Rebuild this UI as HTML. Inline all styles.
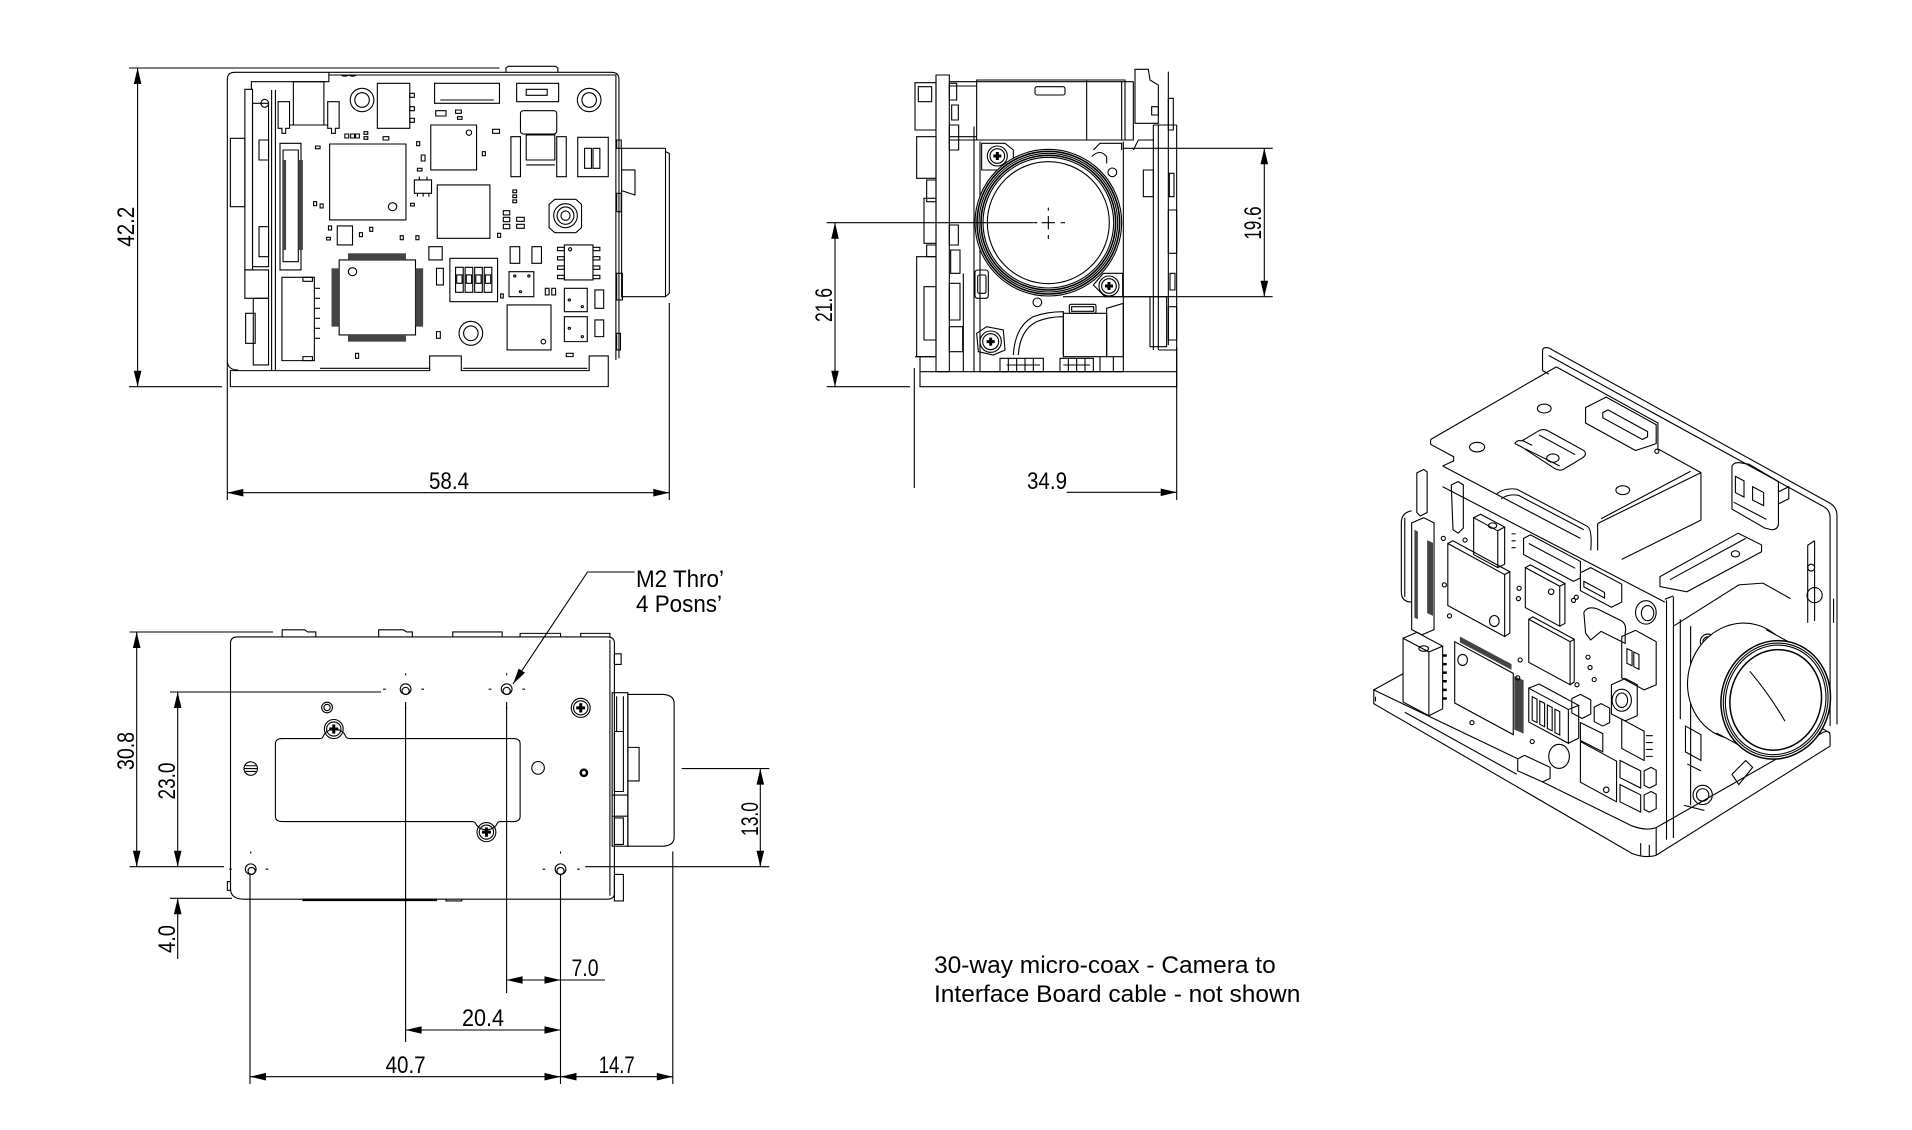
<!DOCTYPE html>
<html><head><meta charset="utf-8">
<style>
html,body{margin:0;padding:0;background:#fff;}
svg{display:block;}
svg *{vector-effect:non-scaling-stroke;}
.l{fill:none;stroke:#000;stroke-width:1.1;}
.w{fill:#fff;}
.p{fill:#444;stroke:none;}
.d{font-family:"Liberation Sans",Arial,sans-serif;font-size:24px;fill:#000;stroke:none;}
.n{font-family:"Liberation Sans",Arial,sans-serif;font-size:24.5px;fill:#000;stroke:none;}
.a{fill:#000;stroke:none;}
</style></head><body>
<svg width="1912" height="1130" viewBox="0 0 1912 1130" xmlns="http://www.w3.org/2000/svg">
<rect x="0" y="0" width="1912" height="1130" fill="#fff"/>

<!-- ================= TOP VIEW ================= -->
<g class="l" transform="matrix(0.3817 0 0 0.3333 100.6 40)">
<path d="M332,965 V118 Q332,97 352,97 H1338 Q1358,97 1358,118 V955"/>
<path d="M1062,97 V84 L1068,79 H1192 L1198,84 V97"/>
<path d="M598,97 V105 H1350 V960 M598,105 V125 H395 V148"/>
<path d="M630,105 Q640,112 650,105 Q660,112 670,105"/>
<path d="M332,965 Q334,990 360,990"/>
<path d="M340,1040 V992 H862 V948 H945 V992 H1280 V948 H1330 V1040 Z"/>
<path d="M458,150 V990 M448,150 V990"/>
<path d="M575,985 H860 M950,985 H1275"/>
<rect x="378" y="148" width="20" height="542"/>
<rect x="398" y="190" width="42" height="490"/>
<rect x="340" y="295" width="38" height="205"/>
<rect x="378" y="690" width="62" height="85"/>
<rect x="380" y="820" width="25" height="90"/>
<rect x="400" y="775" width="40" height="200"/>
<rect x="415" y="300" width="25" height="60"/>
<rect x="415" y="560" width="25" height="90"/>
<ellipse cx="430" cy="190" rx="10" ry="12"/>
<rect x="505" y="125" width="80" height="130"/>
<path d="M465,185 H495 V265 H485 V280 H475 V265 H465 Z"/>
<path d="M595,185 H625 V265 H615 V280 H605 V265 H595 Z"/>
<path d="M495,255 H595"/>
<rect x="725" y="130" width="85" height="135"/>
<rect x="810" y="160" width="12" height="12"/><rect x="810" y="200" width="12" height="12"/><rect x="810" y="235" width="12" height="12"/>
<ellipse cx="685" cy="180" rx="31" ry="35"/><ellipse cx="685" cy="180" rx="19" ry="22"/>
<rect x="875" y="130" width="170" height="60"/>
<path d="M890,180 H1030"/>
<rect x="1090" y="130" width="110" height="55"/>
<rect x="1115" y="148" width="55" height="18"/>
<ellipse cx="1280" cy="180" rx="31" ry="35"/><ellipse cx="1280" cy="180" rx="19" ry="22"/>
<rect x="878" y="212" width="27" height="16"/><rect x="930" y="210" width="15" height="10"/><rect x="935" y="230" width="12" height="8"/>
<rect x="1027" y="268" width="18" height="12"/><rect x="740" y="290" width="15" height="10"/><rect x="690" y="275" width="10" height="8"/>
<rect x="690" y="290" width="10" height="8"/><rect x="640" y="282" width="10" height="12"/><rect x="655" y="282" width="10" height="12"/>
<rect x="668" y="282" width="10" height="12"/><rect x="563" y="318" width="12" height="8"/><rect x="828" y="305" width="8" height="12"/>
<rect x="840" y="345" width="10" height="18"/><rect x="830" y="385" width="12" height="8"/><rect x="1000" y="335" width="8" height="12"/>
<rect x="812" y="490" width="10" height="8"/><rect x="558" y="485" width="8" height="12"/><rect x="575" y="492" width="8" height="12"/>
<rect x="597" y="558" width="8" height="12"/><rect x="592" y="592" width="10" height="8"/><rect x="678" y="578" width="8" height="12"/>
<rect x="705" y="562" width="8" height="12"/><rect x="785" y="587" width="8" height="12"/><rect x="826" y="587" width="8" height="12"/>
<rect x="1080" y="450" width="10" height="8"/><rect x="1080" y="465" width="10" height="8"/><rect x="1080" y="480" width="10" height="8"/>
<rect x="865" y="255" width="120" height="135"/><ellipse cx="965" cy="278" rx="7" ry="8"/>
<rect x="1100" y="212" width="95" height="70" rx="8"/>
<rect x="1115" y="285" width="75" height="75"/>
<rect x="1075" y="290" width="25" height="120"/><rect x="1195" y="290" width="25" height="120"/>
<path d="M1115,375 H1190"/>
<rect x="1250" y="292" width="80" height="118"/>
<rect x="1268" y="325" width="18" height="60"/><rect x="1290" y="325" width="18" height="60"/>
<rect x="600" y="312" width="200" height="228"/><ellipse cx="765" cy="500" rx="11" ry="12"/>
<rect x="470" y="310" width="55" height="380"/>
<rect x="478" y="330" width="40" height="335"/>
<rect class="p" x="476" y="360" width="10" height="270"/>
<rect class="p" x="518" y="360" width="12" height="270"/>
<rect x="822" y="420" width="45" height="40"/>
<path d="M835,410 V420 M855,410 V420 M830,460 V470 M845,460 V470 M860,460 V470"/>
<rect x="882" y="435" width="138" height="160"/>
<path d="M1190,478 H1245 L1260,493 V563 L1245,578 H1190 L1175,563 V493 Z"/>
<ellipse cx="1218" cy="527" rx="31" ry="36"/><ellipse cx="1218" cy="527" rx="22" ry="26"/><ellipse cx="1218" cy="527" rx="12" ry="14"/>
<rect x="1055" y="512" width="17" height="13"/><rect x="1055" y="532" width="17" height="13"/><rect x="1055" y="553" width="17" height="13"/>
<rect x="1090" y="532" width="20" height="12"/><rect x="1090" y="553" width="20" height="12"/><rect x="1040" y="580" width="8" height="12"/>
<rect x="620" y="558" width="40" height="57"/>
<rect x="625" y="660" width="200" height="225"/>
<ellipse cx="660" cy="695" rx="11" ry="12"/>
<rect class="p" x="648" y="640" width="152" height="20"/>
<rect class="p" x="648" y="885" width="152" height="20"/>
<rect class="p" x="605" y="685" width="20" height="175"/>
<rect class="p" x="825" y="685" width="20" height="175"/>
<rect x="880" y="685" width="18" height="50"/>
<rect x="860" y="620" width="35" height="40"/>
<rect x="915" y="655" width="125" height="130"/>
<rect x="930" y="682" width="20" height="75"/><rect x="955" y="682" width="20" height="75"/><rect x="980" y="682" width="20" height="75"/><rect x="1005" y="682" width="20" height="75"/>
<rect x="933" y="705" width="14" height="25"/><rect x="958" y="705" width="14" height="25"/><rect x="983" y="705" width="14" height="25"/><rect x="1008" y="705" width="14" height="25"/>
<rect x="1215" y="615" width="75" height="105"/><ellipse cx="1230" cy="628" rx="4" ry="5"/>
<rect x="1197" y="622" width="18" height="10"/><rect x="1197" y="650" width="18" height="10"/><rect x="1197" y="678" width="18" height="10"/><rect x="1197" y="706" width="18" height="10"/>
<rect x="1290" y="622" width="18" height="10"/><rect x="1290" y="650" width="18" height="10"/><rect x="1290" y="678" width="18" height="10"/><rect x="1290" y="706" width="18" height="10"/>
<rect x="1073" y="620" width="25" height="50"/><rect x="1130" y="620" width="25" height="50"/>
<rect x="1070" y="695" width="65" height="75"/>
<ellipse cx="1085" cy="708" rx="3" ry="3"/><ellipse cx="1122" cy="708" rx="3" ry="3"/><ellipse cx="1100" cy="755" rx="3" ry="3"/>
<rect x="1165" y="745" width="10" height="20"/><rect x="1182" y="745" width="10" height="20"/>
<rect x="1215" y="745" width="60" height="70"/><rect x="1215" y="830" width="60" height="75"/>
<ellipse cx="1228" cy="780" rx="3" ry="3"/><ellipse cx="1262" cy="800" rx="3" ry="3"/><ellipse cx="1228" cy="865" rx="3" ry="3"/><ellipse cx="1262" cy="890" rx="3" ry="3"/>
<rect x="1295" y="750" width="23" height="55"/><rect x="1295" y="840" width="23" height="50"/>
<rect x="1065" y="795" width="115" height="135"/><ellipse cx="1160" cy="905" rx="6" ry="7"/>
<ellipse cx="970" cy="880" rx="31" ry="36"/><ellipse cx="970" cy="880" rx="19" ry="22"/>
<rect x="475" y="712" width="85" height="250"/>
<rect x="530" y="712" width="25" height="12"/><rect x="530" y="950" width="25" height="12"/>
<path d="M560,745 H575 M560,775 H575 M560,805 H575 M560,835 H575 M560,865 H575 M560,895 H575"/>
<rect x="880" y="875" width="10" height="20"/><rect x="668" y="940" width="8" height="15"/><rect x="1220" y="940" width="18" height="10"/><rect x="1048" y="762" width="7" height="12"/>
<rect x="1365" y="325" width="115" height="445"/>
<path d="M1480,335 L1490,340 V760 L1480,770"/>
<path d="M1365,390 H1400 V465 L1365,452"/>
<rect x="1352" y="300" width="12" height="25"/><rect x="1352" y="460" width="12" height="55"/><rect x="1352" y="700" width="15" height="80"/>
<rect x="1352" y="880" width="10" height="50"/>
</g>

<!-- top view dims -->
<g class="l">
<path d="M129,68 H499.5 M129,386.7 H222 M137.6,68 V386.7 M227.3,361.7 V500 M669.3,303 V500 M227.3,492.7 H669.3"/>
</g>
<polygon class="a" points="137.6,68 133.8,84 141.4,84"/>
<polygon class="a" points="137.6,386.7 133.8,370.7 141.4,370.7"/>
<polygon class="a" points="227.3,492.7 243.3,488.9 243.3,496.5"/>
<polygon class="a" points="669.3,492.7 653.3,488.9 653.3,496.5"/>
<text class="d" transform="translate(134,226.7) rotate(-90)" text-anchor="middle" textLength="40" lengthAdjust="spacingAndGlyphs">42.2</text>
<text class="d" x="449" y="489" text-anchor="middle" textLength="40" lengthAdjust="spacingAndGlyphs">58.4</text>

<!-- ================= FRONT VIEW ================= -->
<g class="l" transform="translate(800,40) scale(0.33333)">
<rect x="408" y="105" width="40" height="890"/>
<rect x="345" y="128" width="63" height="142"/>
<rect x="355" y="140" width="40" height="45"/>
<rect x="350" y="290" width="58" height="125"/>
<rect x="380" y="420" width="28" height="65"/>
<rect x="372" y="475" width="36" height="135"/>
<rect x="380" y="615" width="28" height="35"/>
<rect x="350" y="650" width="58" height="300"/>
<rect x="372" y="740" width="36" height="160"/>
<rect x="448" y="130" width="22" height="50"/>
<rect x="455" y="195" width="20" height="45"/>
<rect x="448" y="255" width="28" height="75"/>
<rect x="448" y="555" width="27" height="60"/>
<rect x="452" y="630" width="28" height="70"/>
<rect x="448" y="730" width="32" height="110"/>
<rect x="448" y="860" width="40" height="75"/>
<path d="M448,125 H1000 M448,138 H530"/>
<rect x="530" y="120" width="445" height="180"/>
<path d="M860,120 V300 M965,125 V300"/>
<rect x="705" y="140" width="90" height="25" rx="6"/>
<path d="M448,290 H530 M448,300 H1000 V125"/>
<path d="M522,260 V995 M490,700 V995"/>
<path d="M540,995 V305 M970,305 V995"/>
<path d="M545,310 H615 L640,330 V360 L600,390 H545 Z"/>
<path d="M880,330 L900,310 H965 V330 M875,350 Q900,325 920,350 L920,370"/>
<path d="M880,735 L910,700 H968 V770 H915 Z"/>
<path d="M530,880 L560,860 L610,870 L615,930 L580,945 L535,935 Z"/>
<circle cx="592" cy="348" r="30"/><circle cx="592" cy="348" r="22"/>
<circle cx="927" cy="738" r="30"/><circle cx="927" cy="738" r="22"/>
<circle cx="572" cy="905" r="32"/><circle cx="572" cy="905" r="24"/>
<path d="M580,348 H604 M592,336 V360 M915,738 H939 M927,726 V750 M560,905 H584 M572,893 V917" style="stroke-width:3"/>
<circle cx="745" cy="548" r="220" class="w"/>
<circle cx="745" cy="548" r="214" style="stroke-width:1.6"/>
<circle cx="745" cy="548" r="208"/>
<circle cx="745" cy="548" r="202" style="stroke-width:1.6"/>
<circle cx="745" cy="548" r="196"/>
<circle cx="745" cy="548" r="183"/>
<path d="M725,548 H765 M745,528 V568 M700,548 H712 M782,548 H795 M745,503 V512 M745,585 V597"/>
<circle cx="937" cy="397" r="13"/><circle cx="712" cy="787" r="13"/>
<rect x="525" y="690" width="40" height="85" rx="8"/>
<rect x="533" y="705" width="25" height="55" rx="5"/>
<rect x="808" y="793" width="80" height="27" rx="5"/>
<rect x="815" y="800" width="66" height="14"/>
<path d="M640,945 Q645,860 700,830 Q740,815 790,815 V945 M655,945 Q660,870 710,845 Q745,830 790,830"/>
<rect x="790" y="820" width="130" height="130"/>
<path d="M920,805 L970,790 V950 H920 Z"/>
<rect x="600" y="955" width="130" height="40"/>
<path d="M620,975 H720 M625,955 V995 M650,955 V995 M675,955 V995 M700,955 V995"/>
<rect x="780" y="955" width="100" height="40"/>
<path d="M790,975 H870 M805,955 V995 M830,955 V995 M855,955 V995"/>
<path d="M540,995 H970 M900,950 V995 M940,950 V995"/>
<path d="M1005,88 H1045 L1050,120 L1075,135 V250 H1005 Z"/>
<rect x="1055" y="200" width="20" height="25"/>
<path d="M1105,95 V915 M1130,255 V930 M1075,255 V930 M1060,255 V930 M1060,255 H1130"/>
<path d="M1000,330 L1015,300 H1060"/>
<rect x="1030" y="390" width="30" height="80"/>
<rect x="1105" y="175" width="15" height="95"/>
<rect x="1108" y="400" width="14" height="70"/>
<rect x="1105" y="510" width="25" height="130"/>
<rect x="1110" y="700" width="15" height="50"/>
<rect x="1105" y="800" width="25" height="100"/>
<rect x="1050" y="770" width="50" height="150"/>
<path d="M970,770 H1050"/>
<rect x="360" y="995" width="770" height="45"/>
<path d="M345,950 H408 M360,950 V995 M1130,925 V995 M1075,930 H1130"/>
</g>

<!-- front view dims -->
<g class="l">
<path d="M826.7,222.7 H1033 M826.7,386.7 H910 M835,222.7 V386.7 M1123,148.3 H1272.7 M1063,296.7 H1272.7 M1264.3,148.3 V296.7 M914.3,368 V488 M1176.7,346.7 V500 M1066.7,492.3 H1176.7"/>
</g>
<polygon class="a" points="835,222.7 831.2,238.7 838.8,238.7"/>
<polygon class="a" points="835,386.7 831.2,370.7 838.8,370.7"/>
<polygon class="a" points="1264.3,148.3 1260.5,164.3 1268.1,164.3"/>
<polygon class="a" points="1264.3,296.7 1260.5,280.7 1268.1,280.7"/>
<polygon class="a" points="1176.7,492.3 1160.7,488.5 1160.7,496.1"/>
<text class="d" transform="translate(832,305) rotate(-90)" text-anchor="middle" textLength="34" lengthAdjust="spacingAndGlyphs">21.6</text>
<text class="d" transform="translate(1261,223) rotate(-90)" text-anchor="middle" textLength="33" lengthAdjust="spacingAndGlyphs">19.6</text>
<text class="d" x="1047" y="489" text-anchor="middle" textLength="40" lengthAdjust="spacingAndGlyphs">34.9</text>

<!-- ================= BOTTOM VIEW ================= -->
<g class="l" transform="matrix(0.449 0 0 0.353 100.3 555)">
<path d="M305,232 H1130 Q1145,232 1145,250 V958 Q1145,975 1130,975 H320 Q290,975 290,945 V250 Q290,232 305,232 Z"/>
<path d="M1135,240 V965"/>
<path d="M405,232 V212 H455 L462,218 H480 V232 M620,232 V212 H675 L682,218 H695 V232 M785,232 V218 H895 V232 M935,232 V222 H1025 V232 M1070,232 V222 H1135 V232"/>
<rect x="1145" y="280" width="15" height="30"/>
<rect x="1145" y="905" width="20" height="75"/>
<rect x="283" y="925" width="7" height="25"/>
<path d="M405,520 H490 Q495,520 498,510 A25,25 0 0 1 545,510 Q548,520 555,520 H920 Q935,520 935,535 V740 Q935,755 920,755 H890 Q885,755 882,765 A25,25 0 0 1 838,765 Q835,755 828,755 H405 Q390,755 390,740 V535 Q390,520 405,520 Z"/>
<ellipse cx="520" cy="493" rx="21" ry="27"/><ellipse cx="520" cy="493" rx="16" ry="20"/>
<ellipse cx="860" cy="785" rx="21" ry="27"/><ellipse cx="860" cy="785" rx="16" ry="20"/>
<ellipse cx="1070" cy="433" rx="21" ry="27"/><ellipse cx="1070" cy="433" rx="16" ry="20"/>
<path d="M510,493 H530 M520,480 V506 M850,785 H870 M860,772 V798 M1060,433 H1080 M1070,420 V446" style="stroke-width:3"/>
<ellipse cx="505" cy="432" rx="12" ry="15"/><ellipse cx="505" cy="432" rx="7" ry="9"/>
<ellipse cx="975" cy="603" rx="14" ry="18"/>
<ellipse cx="1077" cy="617" rx="7" ry="9" style="stroke-width:2.5"/>
<ellipse cx="335" cy="605" rx="15" ry="19"/>
<path d="M323,597 H347 M321,605 H349 M323,613 H347"/>
<ellipse cx="680" cy="380" rx="12" ry="15"/><ellipse cx="680" cy="385" rx="8" ry="10"/>
<ellipse cx="905" cy="380" rx="12" ry="15"/><ellipse cx="905" cy="385" rx="8" ry="10"/>
<ellipse cx="335" cy="890" rx="12" ry="15"/><ellipse cx="337" cy="895" rx="8" ry="10"/>
<ellipse cx="1025" cy="890" rx="12" ry="15"/><ellipse cx="1025" cy="895" rx="8" ry="10"/>
<path d="M630,380 H636 M715,380 H721 M680,335 V341 M680,430 V436 M865,380 H871 M940,380 H946 M905,335 V341 M905,430 V436 M287,890 H293 M368,890 H374 M335,840 V846 M985,890 H991 M1062,890 H1068 M1025,840 V846"/>
<path d="M1175,395 H1255 Q1278,398 1278,420 V800 Q1278,822 1255,825 H1175 Z"/>
<rect x="1140" y="390" width="35" height="435"/>
<path d="M1150,400 V500 M1165,400 V500 M1175,545 H1200 V640 H1175 M1140,680 H1175 M1140,740 H1175"/>
<rect x="1145" y="500" width="20" height="170"/>
<rect x="1145" y="745" width="20" height="75"/>
<path d="M450,977 H750" style="stroke-width:2.5"/>
<path d="M770,975 V980 H805 V975"/>
</g>

<!-- bottom view dims -->
<g class="l">
<path d="M129.5,632 H273 M129.5,866.7 H224 M136.7,632 V866.7 M170,692 H381 M177.7,692 V866.7 M170,898.3 H232 M177.7,898.3 V959 M250,875 V1084 M405.6,702 V1042 M506.6,702 V993 M560.5,875 V1084 M672.8,851.5 V1084 M681.7,768.6 H769.3 M585.2,866.7 H769.3 M760.3,768.6 V866.7 M506.6,980 H605 M405.6,1030 H560.5 M250,1076.7 H672.8"/>
<path d="M634.6,572 H587.5 L513,684"/>
</g>
<polygon class="a" points="136.7,632 132.9,648 140.5,648"/>
<polygon class="a" points="136.7,866.7 132.9,850.7 140.5,850.7"/>
<polygon class="a" points="177.7,692 173.9,708 181.5,708"/>
<polygon class="a" points="177.7,866.7 173.9,850.7 181.5,850.7"/>
<polygon class="a" points="177.7,898.3 173.9,914.3 181.5,914.3"/>
<polygon class="a" points="760.3,768.6 756.5,784.6 764.1,784.6"/>
<polygon class="a" points="760.3,866.7 756.5,850.7 764.1,850.7"/>
<polygon class="a" points="506.6,980 522.6,976.2 522.6,983.8"/>
<polygon class="a" points="560.5,980 544.5,976.2 544.5,983.8"/>
<polygon class="a" points="405.6,1030 421.6,1026.2 421.6,1033.8"/>
<polygon class="a" points="560.5,1030 544.5,1026.2 544.5,1033.8"/>
<polygon class="a" points="250,1076.7 266,1072.9 266,1080.5"/>
<polygon class="a" points="560.5,1076.7 544.5,1072.9 544.5,1080.5"/>
<polygon class="a" points="560.5,1076.7 576.5,1072.9 576.5,1080.5"/>
<polygon class="a" points="672.8,1076.7 656.8,1072.9 656.8,1080.5"/>
<polygon class="a" points="513,684 525,672.8 518.7,668.6"/>
<text class="d" transform="translate(134,751) rotate(-90)" text-anchor="middle" textLength="38" lengthAdjust="spacingAndGlyphs">30.8</text>
<text class="d" transform="translate(175,781) rotate(-90)" text-anchor="middle" textLength="37" lengthAdjust="spacingAndGlyphs">23.0</text>
<text class="d" transform="translate(175,939) rotate(-90)" text-anchor="middle" textLength="28" lengthAdjust="spacingAndGlyphs">4.0</text>
<text class="d" transform="translate(758,819) rotate(-90)" text-anchor="middle" textLength="34" lengthAdjust="spacingAndGlyphs">13.0</text>
<text class="d" x="585" y="976" text-anchor="middle" textLength="27" lengthAdjust="spacingAndGlyphs">7.0</text>
<text class="d" x="483" y="1026" text-anchor="middle" textLength="42" lengthAdjust="spacingAndGlyphs">20.4</text>
<text class="d" x="405.6" y="1073" text-anchor="middle" textLength="40" lengthAdjust="spacingAndGlyphs">40.7</text>
<text class="d" x="616.7" y="1073" text-anchor="middle" textLength="36" lengthAdjust="spacingAndGlyphs">14.7</text>
<text class="d" x="636" y="587" textLength="88" lengthAdjust="spacingAndGlyphs">M2 Thro’</text>
<text class="d" x="636" y="612" textLength="86" lengthAdjust="spacingAndGlyphs">4 Posns’</text>

<!-- ================= 3D VIEW ================= -->
<g class="l" transform="matrix(0.3444 0 0 0.3444 1360 330)">
<path d="M530,118 V60 Q531,48 548,52 L1365,503 Q1385,515 1385,540 V1145"/>
<path d="M548,74 L1345,512 Q1365,522 1365,545 V1150"/>
<path d="M530,118 L548,128"/>
<path d="M205,318 L570,107 M205,318 V332 L272,368 V380 L240,395 M240,395 L640,605"/>
<path d="M570,107 L865,270 V345 L990,414 V552 M690,562 L990,414 M700,548 L960,410 M690,562 V640 M760,666 L990,552"/>
<ellipse cx="340" cy="340" rx="22" ry="14"/>
<ellipse cx="535" cy="228" rx="20" ry="13"/>
<ellipse cx="763" cy="465" rx="20" ry="13"/>
<circle cx="862" cy="352" r="6"/>
<path d="M450,330 Q455,318 470,322 L520,292 Q535,285 550,295 L650,350 Q660,360 648,370 L590,405 Q578,410 565,402 L470,340 Z"/>
<path d="M520,305 L625,362 M480,345 L580,395 M470,320 L500,335"/>
<ellipse cx="560" cy="372" rx="18" ry="12"/>
<path d="M655,225 L715,195 L860,275 V330 L800,350 L655,270 Z M705,240 L720,232 L835,295 V310 L820,318 L705,255 Z M655,225 V270"/>
<path d="M395,478 Q415,458 455,462 L660,570 Q675,580 670,640 M410,490 Q430,475 460,480 L650,580"/>
<path d="M1080,395 Q1085,385 1100,385 L1130,390 L1215,440 V565 Q1212,580 1195,580 L1175,575 L1080,520 Z"/>
<path d="M1090,425 L1115,438 V485 L1090,472 Z M1140,455 L1172,472 V510 L1140,494 Z M1215,470 L1245,455 V490 L1215,505 M1085,500 L1180,550"/>
<path d="M871,716 L1098,590 L1166,624 V644 L949,760 L871,745 Z"/>
<path d="M900,725 L1120,605"/>
<ellipse cx="1090" cy="650" rx="12" ry="9"/>
<path d="M890,785 V1480 M910,775 V1475 M885,782 L910,772"/>
<path d="M1300,625 V850 M1320,612 V845 M1300,625 L1320,612 M1375,780 V850"/>
<circle cx="1320" cy="770" r="22"/><circle cx="1310" cy="690" r="10"/>
<path d="M910,860 L1100,740 L1170,735 L1250,780 M930,840 V1130 M960,860 V1380 M940,1380 L1000,1395"/>
<circle cx="1010" cy="905" r="22"/><circle cx="1010" cy="905" r="14"/>
<circle cx="995" cy="1350" r="28"/><circle cx="995" cy="1350" r="18"/>
<path d="M1000,985 L1060,960 L1040,1010 L1000,1030 Z"/>
<path d="M945,1150 L990,1175 V1250 L945,1225 Z M950,1260 L990,1280"/>
<path d="M240,455 L885,790"/>
<path d="M150,525 Q120,530 120,560 V760 Q120,790 150,790 M130,545 V775"/>
<path d="M150,560 L185,545 L215,560 V870 L180,885 L150,870 Z"/>
<path class="p" d="M158,580 L168,585 V840 L158,835 Z"/>
<path class="p" d="M195,610 L212,618 V830 L195,822 Z"/>
<path d="M165,415 L185,405 L195,412 V530 L175,540 L165,530 Z"/>
<path d="M265,450 L285,440 L300,450 V575 L285,590 L270,580 Z"/>
<path d="M255,620 L420,710 V890 L255,800 Z M420,710 L435,702 V880 L420,890 M255,620 L270,612 L435,702"/>
<ellipse cx="390" cy="845" rx="14" ry="16"/>
<path d="M330,545 L400,583 V690 L330,652 Z M330,545 L350,535 L420,572 L400,583 M420,572 V680 L400,690"/>
<ellipse cx="385" cy="568" rx="12" ry="8"/>
<path d="M440,592 H452 M440,612 H452 M440,632 H452"/>
<path d="M480,690 L580,744 V860 L480,806 Z M480,690 L495,682 L595,736 L580,744 M595,736 V852 L580,860"/>
<circle cx="555" cy="760" r="8"/>
<path d="M475,605 L495,595 L640,672 V720 L620,730 L475,652 Z M490,620 L625,692"/>
<path d="M490,840 L610,905 V1030 L490,965 Z M610,905 L622,898 V1022 L610,1030 M490,840 L502,833 L622,898"/>
<path d="M275,905 L445,997 V1175 L275,1083 Z"/>
<path class="p" d="M290,890 L440,970 L440,987 L290,907 Z"/>
<path class="p" d="M448,1005 L475,1017 V1172 L448,1160 Z"/>
<ellipse cx="298" cy="958" rx="14" ry="16"/>
<path d="M125,895 L200,935 V1120 L125,1080 Z M125,895 L165,878 L240,918 L200,935 M240,918 V1100 L200,1120"/>
<ellipse cx="185" cy="925" rx="14" ry="8"/>
<path d="M240,945 H252 M240,970 H252 M240,995 H252 M240,1020 H252 M240,1045 H252 M240,1070 H252" style="stroke-width:2.5"/>
<path d="M490,1040 L605,1102 V1200 L490,1138 Z M490,1040 L520,1028 L635,1090 L605,1102 M635,1090 V1185 L605,1200"/>
<path d="M500,1065 L514,1072 V1140 L500,1133 Z M522,1077 L536,1084 V1152 L522,1145 Z M544,1089 L558,1096 V1164 L544,1157 Z M566,1101 L580,1108 V1176 L566,1169 Z"/>
<path d="M615,1070 L640,1058 L670,1074 V1115 L645,1128 L615,1112 Z M680,1095 L700,1085 L725,1098 V1140 L705,1150 L680,1137 Z"/>
<path d="M640,1140 L705,1172 V1225 L640,1192 Z"/>
<path d="M640,1195 L745,1252 V1370 L640,1313 Z"/>
<circle cx="715" cy="1335" r="8"/>
<path d="M730,1030 L770,1012 L805,1030 V1120 L770,1135 L730,1115 Z"/>
<ellipse cx="760" cy="1075" rx="28" ry="32"/><ellipse cx="760" cy="1075" rx="17" ry="21"/>
<path d="M760,1130 L825,1165 V1250 L760,1215 Z M830,1178 H850 M830,1198 H850 M830,1218 H850 M830,1238 H850"/>
<path d="M755,1250 L815,1280 V1330 L755,1300 Z M755,1320 L815,1350 V1400 L755,1370 Z"/>
<path d="M825,1280 L845,1270 L860,1278 V1320 L840,1330 L825,1322 Z M825,1350 L845,1340 L860,1348 V1390 L840,1400 L825,1392 Z"/>
<path d="M760,890 L800,872 L860,905 V1030 L825,1045 L760,1010 Z M775,925 L790,932 V975 L775,968 Z M795,935 L810,942 V985 L795,978 Z"/>
<path d="M650,820 Q660,800 690,810 L760,845 Q775,855 770,880 V910 L700,875 L670,900 L655,880 Z"/>
<path d="M640,705 L670,690 L760,738 V790 L730,805 L640,757 Z M650,730 L710,762 V778 L650,746 Z"/>
<ellipse cx="830" cy="820" rx="30" ry="34"/><ellipse cx="835" cy="822" rx="18" ry="22"/>
<ellipse cx="578" cy="1238" rx="30" ry="35"/>
<circle cx="242" cy="605" r="6"/><circle cx="245" cy="740" r="6"/><circle cx="460" cy="780" r="6"/><circle cx="462" cy="750" r="6"/>
<circle cx="628" cy="776" r="6"/><circle cx="465" cy="958" r="6"/><circle cx="458" cy="1010" r="6"/><circle cx="500" cy="1195" r="6"/>
<circle cx="325" cy="1140" r="6"/><circle cx="630" cy="1030" r="6"/><circle cx="662" cy="950" r="6"/><circle cx="668" cy="980" r="6"/>
<circle cx="680" cy="1015" r="6"/><circle cx="260" cy="830" r="6"/><circle cx="305" cy="610" r="6"/><circle cx="620" cy="785" r="6"/>
<path d="M40,1045 L458,1245 L478,1235 L552,1270 V1302 L530,1312 L790,1440 Q830,1455 860,1445 L1345,1168 Q1365,1160 1365,1180 V1208 L860,1525 Q830,1535 790,1520 L40,1085 Z"/>
<path d="M40,1045 L125,998 M458,1245 V1280 L530,1312 M860,1445 V1525 M815,1490 V1525 M840,1495 V1528 M1330,1150 L1365,1170 M45,1065 V1078"/>
<path d="M130,1110 L455,1290"/>
<ellipse cx="1107" cy="1020" rx="155" ry="170" transform="rotate(15 1107 1020)" class="w"/>
<polygon points="1179,870 1279,924 1135,1224 1035,1170" fill="#fff" stroke="none"/>
<path d="M1179,870 L1279,924 M1035,1170 L1135,1224"/>
<ellipse cx="1207" cy="1074" rx="158" ry="173" transform="rotate(15 1207 1074)" class="w" style="stroke-width:1.5"/>
<ellipse cx="1207" cy="1074" rx="151" ry="166" transform="rotate(15 1207 1074)"/>
<ellipse cx="1207" cy="1074" rx="145" ry="160" transform="rotate(15 1207 1074)"/>
<ellipse cx="1207" cy="1074" rx="132" ry="147" transform="rotate(15 1207 1074)" style="stroke-width:1.5"/>
<path d="M1132,991 Q1190,1060 1234,1136"/>
<path d="M1080,1290 L1120,1250 L1140,1270 L1100,1320 Z"/>
</g>

<text class="n" x="934" y="973">30-way micro-coax - Camera to</text>
<text class="n" x="934" y="1002">Interface Board cable - not shown</text>
</svg>
</body></html>
